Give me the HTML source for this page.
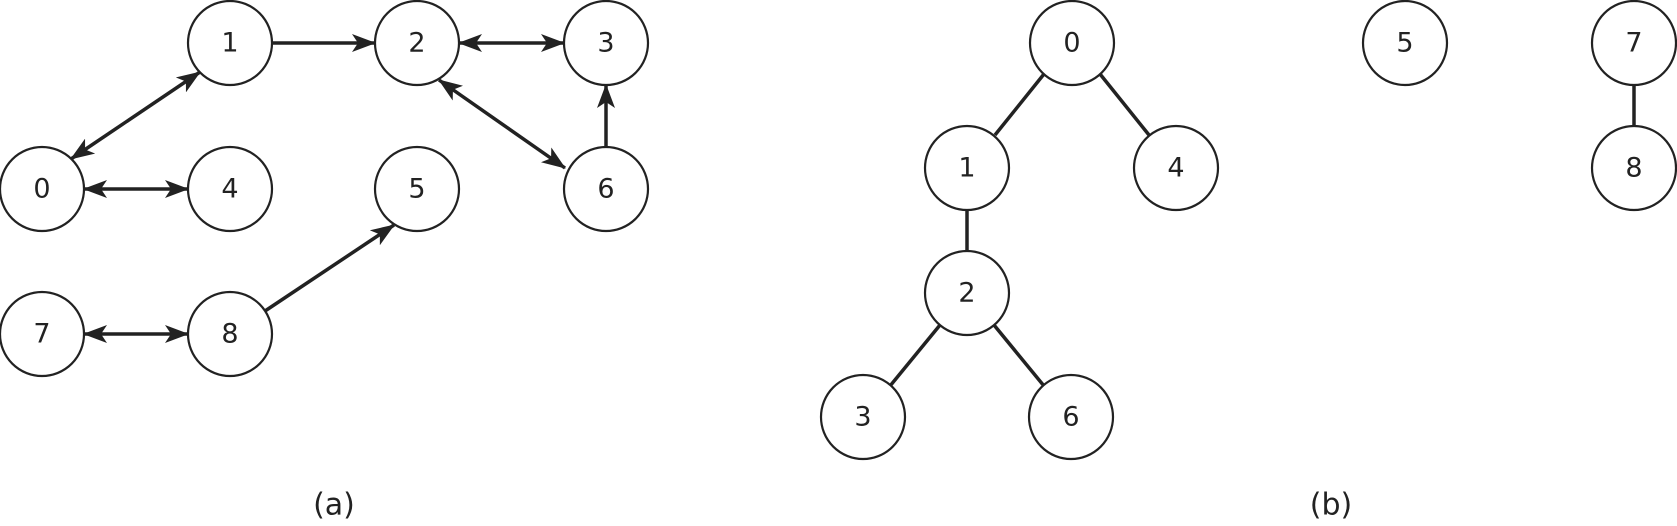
<!DOCTYPE html>
<html><head><style>
html,body{margin:0;padding:0;background:#fff}
svg{display:block}
text{font-family:"DejaVu Sans","Liberation Sans",sans-serif;font-size:27px;fill:#222;text-anchor:middle;dominant-baseline:central}
</style></head><body>
<svg width="1677" height="526" viewBox="0 0 1677 526" xmlns="http://www.w3.org/2000/svg">
<defs>
<marker id="a" viewBox="0 0 24 18" refX="23" refY="9" markerWidth="24" markerHeight="18" markerUnits="userSpaceOnUse" orient="auto-start-reverse">
<path d="M0,0 L24,9 L0,18 L6,9 Z" fill="#222"/>
</marker>
</defs>
<g stroke="#222" stroke-width="3.5" fill="none">
<line x1="272" y1="43" x2="375" y2="43" marker-end="url(#a)"/>
<line x1="459" y1="43" x2="564" y2="43" marker-start="url(#a)" marker-end="url(#a)"/>
<line x1="71" y1="159" x2="200" y2="72" marker-start="url(#a)" marker-end="url(#a)"/>
<line x1="84" y1="189" x2="188" y2="189" marker-start="url(#a)" marker-end="url(#a)"/>
<line x1="439" y1="80" x2="565" y2="168" marker-start="url(#a)" marker-end="url(#a)"/>
<line x1="606" y1="147" x2="606" y2="85" marker-end="url(#a)"/>
<line x1="84" y1="334" x2="188" y2="334" marker-start="url(#a)" marker-end="url(#a)"/>
<line x1="265" y1="311" x2="394" y2="225" marker-end="url(#a)"/>
<line x1="1044" y1="74" x2="995" y2="135"/>
<line x1="1100" y1="74" x2="1149" y2="135"/>
<line x1="967" y1="210" x2="967" y2="251"/>
<line x1="940" y1="325" x2="890" y2="386"/>
<line x1="994" y1="325" x2="1044" y2="386"/>
<line x1="1634" y1="85" x2="1634" y2="126"/>
</g>
<g stroke="#222" stroke-width="2.2" fill="#fff">
<circle cx="230" cy="43" r="42"/><circle cx="417" cy="43" r="42"/><circle cx="606" cy="43" r="42"/>
<circle cx="42" cy="189" r="42"/><circle cx="230" cy="189" r="42"/><circle cx="417" cy="189" r="42"/><circle cx="606" cy="189" r="42"/>
<circle cx="42" cy="334" r="42"/><circle cx="230" cy="334" r="42"/>
<circle cx="1072" cy="43" r="42"/><circle cx="1405" cy="43" r="42"/><circle cx="1634" cy="43" r="42"/>
<circle cx="967" cy="168" r="42"/><circle cx="1176" cy="168" r="42"/><circle cx="1634" cy="168" r="42"/>
<circle cx="967" cy="293" r="42"/>
<circle cx="863" cy="417" r="42"/><circle cx="1071" cy="417" r="42"/>
</g>
<text x="230" y="43">1</text><text x="417" y="43">2</text><text x="606" y="43">3</text>
<text x="42" y="189">0</text><text x="230" y="189">4</text><text x="417" y="189">5</text><text x="606" y="189">6</text>
<text x="42" y="334">7</text><text x="230" y="334">8</text>
<text x="1072" y="43">0</text><text x="1405" y="43">5</text><text x="1634" y="43">7</text>
<text x="967" y="168">1</text><text x="1176" y="168">4</text><text x="1634" y="168">8</text>
<text x="967" y="293">2</text>
<text x="863" y="417">3</text><text x="1071" y="417">6</text>
<text x="334" y="505" style="font-size:30px">(a)</text>
<text x="1331" y="505" style="font-size:30px">(b)</text>
</svg>
</body></html>
